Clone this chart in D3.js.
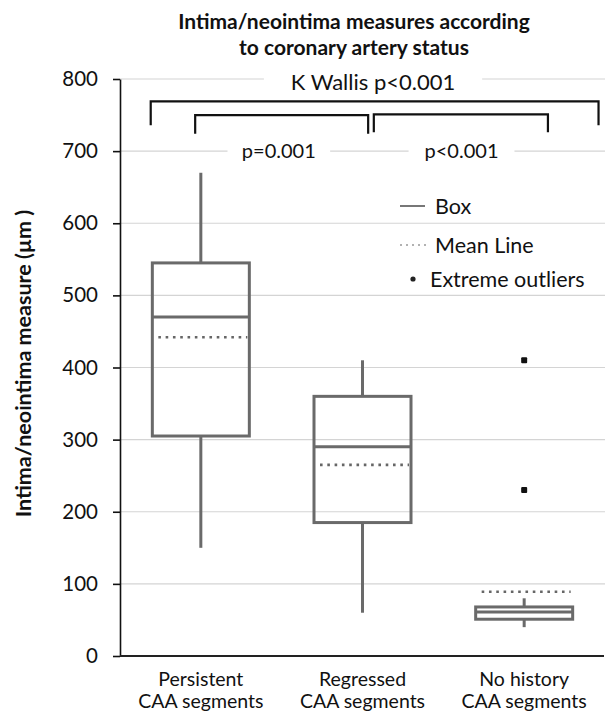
<!DOCTYPE html>
<html>
<head>
<meta charset="utf-8">
<script src="https://cdn.jsdelivr.net/npm/d3@7"></script>
<style>
  html, body { margin: 0; padding: 0; background: #fff; }
  svg { display: block; }
  text { font-family: Lato, "Open Sans", sans-serif; fill: #111; }
</style>
</head>
<body>
<svg id="chart" width="605" height="713"></svg>
<script>
// Box-plot summaries per coronary segment group (µm)
const categories = ["Persistent", "Regressed", "No history"];
const categorySub = ["CAA segments", "CAA segments", "CAA segments"];
const whiskerLow  = [150, 60, 40];
const q1          = [305, 185, 51];
const median      = [470, 290, 61];
const q3          = [545, 360, 68];
const whiskerHigh = [670, 410, 80];
const mean        = [442, 265, 89];
const outliers    = [[], [], [230, 410]];
const yTicks      = [0, 100, 200, 300, 400, 500, 600, 700, 800];

const boxes = categories.map((c, i) => ({
  cat: c, lo: whiskerLow[i], q1: q1[i], med: median[i], q3: q3[i],
  hi: whiskerHigh[i], mean: mean[i], out: outliers[i]
}));

const svg = d3.select("#chart");
const plotLeft = 120, plotRight = 605, plotTop = 79, plotBottom = 656;

const x = d3.scaleBand().domain(categories).range([plotLeft, plotRight])
  .paddingInner(0.4).paddingOuter(0.2);
const y = d3.scaleLinear().domain([0, 800]).range([plotBottom, plotTop]);
// continuous position across the groups (group i centred on i)
const xi = d3.scaleLinear().domain([-0.5, 2.5]).range([plotLeft, plotRight]);

const boxColor = "#6a6a6a";

// gridlines
svg.append("g").selectAll("line").data(yTicks.filter(d => d > 0)).join("line")
  .attr("x1", plotLeft).attr("x2", plotRight)
  .attr("y1", d => y(d)).attr("y2", d => y(d))
  .attr("stroke", "#d4d4d4").attr("stroke-width", 1.2);

// y axis
const yAxis = svg.append("g").attr("transform", `translate(${plotLeft},0)`)
  .call(d3.axisLeft(y).tickValues(yTicks).tickSize(7).tickSizeOuter(0).tickPadding(15));
yAxis.select(".domain").attr("stroke", "#111").attr("stroke-width", 1.6);
yAxis.selectAll(".tick line").attr("stroke", "#111").attr("stroke-width", 1.6);
yAxis.selectAll(".tick text").attr("font-size", 20.5).attr("fill", "#111")
  .style("font-family", "Lato, sans-serif");

// x baseline
svg.append("line").attr("x1", plotLeft).attr("x2", plotRight - 1)
  .attr("y1", y(0)).attr("y2", y(0))
  .attr("stroke", "#222").attr("stroke-width", 2.2);

// boxes
const g = svg.append("g").selectAll("g").data(boxes).join("g");
const cx = d => x(d.cat) + x.bandwidth() / 2;

g.append("line").attr("x1", cx).attr("x2", cx)
  .attr("y1", d => y(d.hi)).attr("y2", d => y(d.q3))
  .attr("stroke", boxColor).attr("stroke-width", 3);
g.append("line").attr("x1", cx).attr("x2", cx)
  .attr("y1", d => y(d.q1)).attr("y2", d => y(d.lo))
  .attr("stroke", boxColor).attr("stroke-width", 3);
g.append("rect")
  .attr("x", d => x(d.cat)).attr("width", x.bandwidth())
  .attr("y", d => y(d.q3)).attr("height", d => y(d.q1) - y(d.q3))
  .attr("fill", "none").attr("stroke", boxColor).attr("stroke-width", 3);
g.append("line")
  .attr("x1", d => x(d.cat)).attr("x2", d => x(d.cat) + x.bandwidth())
  .attr("y1", d => y(d.med)).attr("y2", d => y(d.med))
  .attr("stroke", boxColor).attr("stroke-width", 3);
g.append("line")
  .attr("x1", d => x(d.cat) + 6).attr("x2", d => x(d.cat) + x.bandwidth() - 2)
  .attr("y1", d => y(d.mean)).attr("y2", d => y(d.mean))
  .attr("stroke", "#666").attr("stroke-width", 2.6)
  .attr("stroke-dasharray", "2.6,4.7");
g.selectAll("rect.out").data(d => d.out.map(v => ({ v, c: cx(d) }))).join("rect")
  .attr("class", "out")
  .attr("x", o => o.c - 3).attr("y", o => y(o.v) - 3)
  .attr("width", 6).attr("height", 6).attr("rx", 1)
  .attr("fill", "#111");

// category labels
const lab = svg.append("g").selectAll("text").data(boxes).join("text")
  .attr("text-anchor", "middle").attr("font-size", 19.5);
lab.append("tspan").attr("x", cx).attr("y", 686).text(d => d.cat);
lab.append("tspan").attr("x", cx).attr("y", 708).text((d, i) => categorySub[i]);

// comparison brackets
const brk = svg.append("g").attr("fill", "none").attr("stroke", "#111")
  .attr("stroke-width", 2.2);
function bracket(a, b, vTop, vBot) {
  brk.append("path").attr("d",
    `M${xi(a)},${y(vBot)}V${y(vTop)}H${xi(b)}V${y(vBot)}`);
}
bracket(-0.31, 2.46, 769, 736);
bracket(-0.035, 1.035, 750, 724);
bracket(1.07, 2.147, 751, 726);

// test labels on white backing
function pLabel(text, xa, xb, v, size) {
  svg.append("rect").attr("x", xi(xa)).attr("width", xi(xb) - xi(xa))
    .attr("y", y(v) - 14).attr("height", 26).attr("fill", "#fff");
  svg.append("text").attr("x", (xi(xa) + xi(xb)) / 2).attr("y", y(v))
    .attr("dy", "0.35em").attr("text-anchor", "middle")
    .attr("font-size", size).text(text);
}
pLabel("K Wallis p<0.001", 0.39, 1.74, 795, 22);
pLabel("p=0.001", 0.165, 0.8, 700, 20);
pLabel("p<0.001", 1.285, 1.94, 700, 20);

// legend
const lg = svg.append("g");
lg.append("line").attr("x1", 400).attr("x2", 425).attr("y1", 206).attr("y2", 206)
  .attr("stroke", "#777").attr("stroke-width", 2);
lg.append("text").attr("x", 435).attr("y", 206).attr("dy", "0.35em")
  .attr("font-size", 21.5).text("Box");
lg.append("line").attr("x1", 400).attr("x2", 428).attr("y1", 245).attr("y2", 245)
  .attr("stroke", "#999").attr("stroke-width", 1.5).attr("stroke-dasharray", "2,4");
lg.append("text").attr("x", 435).attr("y", 245).attr("dy", "0.35em")
  .attr("font-size", 21.5).text("Mean Line");
lg.append("circle").attr("cx", 413).attr("cy", 279).attr("r", 2.6).attr("fill", "#222");
lg.append("text").attr("x", 430).attr("y", 279).attr("dy", "0.35em")
  .attr("font-size", 21.5).text("Extreme outliers");

// title
const t = svg.append("text").attr("text-anchor", "middle")
  .attr("font-size", 21).attr("font-weight", "bold");
t.append("tspan").attr("x", 354).attr("y", 29).text("Intima/neointima measures according");
t.append("tspan").attr("x", 354).attr("y", 55).text("to coronary artery status");

// y axis title
svg.append("text")
  .attr("transform", `translate(31,${(plotTop + plotBottom) / 2 - 4}) rotate(-90)`)
  .attr("text-anchor", "middle").attr("font-size", 21.5).attr("font-weight", "bold")
  .text("Intima/neointima measure (µm )");
</script>
</body>
</html>
